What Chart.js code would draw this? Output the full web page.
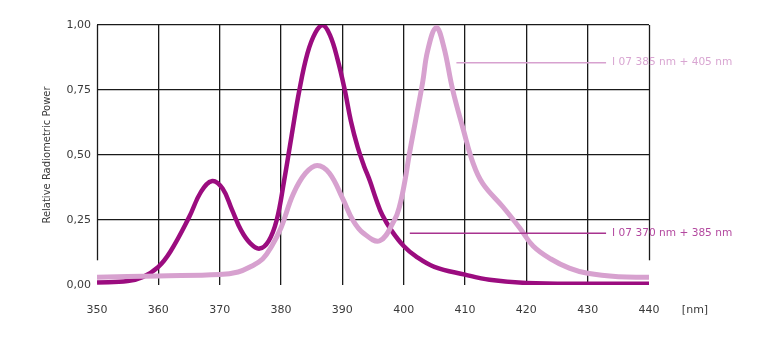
<!DOCTYPE html>
<html>
<head>
<meta charset="utf-8">
<script src="https://cdn.jsdelivr.net/npm/chart.js@4.4.1/dist/chart.umd.min.js"></script>
<style>
  html, body { margin: 0; padding: 0; background: #fff; }
  #wrap { position: relative; width: 768px; height: 343px; }
</style>
</head>
<body>
<div id="wrap"><canvas id="spectrum"></canvas></div>
<script>
// wavelength (nm) and relative power
var darkNm    = [350, 355, 357.4, 360, 362, 365, 367, 368.8, 370.5, 372, 373.5, 375, 376.5, 378, 379.3, 380.5, 381.7, 383, 384.3, 385.6, 386.8, 388, 389.2, 390.4, 391.4, 392.5, 393.5, 394.5, 395.5, 396.5, 398, 400, 402, 405, 410, 414, 420, 430, 440];
var darkPower = [0.01, 0.015, 0.03, 0.07, 0.13, 0.26, 0.36, 0.40, 0.37, 0.29, 0.21, 0.16, 0.14, 0.17, 0.25, 0.40, 0.57, 0.75, 0.89, 0.97, 1.00, 0.96, 0.87, 0.75, 0.63, 0.53, 0.46, 0.40, 0.33, 0.27, 0.21, 0.15, 0.11, 0.07, 0.04, 0.02, 0.008, 0.005, 0.005];

var lightNm    = [350, 360, 370, 373, 375, 377, 378.5, 380, 382, 384, 385.9, 387.9, 390.1, 391.7, 393.4, 396.1, 398.5, 399.3, 400.2, 400.9, 402, 403.1, 403.9, 405.3, 406.5, 408, 409.7, 411.3, 412.9, 416.2, 418.9, 421.1, 424, 427, 430, 435, 440];
var lightPower = [0.03, 0.035, 0.04, 0.05, 0.07, 0.10, 0.15, 0.22, 0.35, 0.43, 0.46, 0.43, 0.33, 0.25, 0.20, 0.17, 0.25, 0.30, 0.40, 0.50, 0.64, 0.78, 0.90, 0.99, 0.92, 0.75, 0.60, 0.47, 0.39, 0.30, 0.22, 0.15, 0.10, 0.065, 0.045, 0.032, 0.03];

var seriesNames = ["I 07 370 nm + 385 nm", "I 07 385 nm + 405 nm"];
// leader lines: [startNm, endNm] and level
var darkLeaderNm  = [401, 433];
var darkLeaderY   = 0.199;
var lightLeaderNm = [408.6, 433];
var lightLeaderY  = 0.855;

var xTicks = [350, 360, 370, 380, 390, 400, 410, 420, 430, 440];
var yTickLabels = ["0,00", "0,25", "0,50", "0,75", "1,00"];
var yTitle = "Relative Radiometric Power";
var xUnit = "[nm]";

var DARK = "#9b0c7f";
var LIGHT = "#d7a1cf";
var GRID = "#1a1a1a";
var TEXT = "#3a3a3a";
var FONT = "DejaVu Sans";

function pairs(xs, ys){
  return xs.map(function (x, i) { return { x: x, y: ys[i] }; });
}

var frameAndLabels = {
  id: "frameAndLabels",
  afterDatasetsDraw: function (chart) {
    var ctx = chart.ctx;
    var xs = chart.scales.x, ys = chart.scales.y;

    // left and right frame lines stop short of the baseline
    ctx.save();
    ctx.strokeStyle = GRID;
    ctx.lineWidth = 1.3;
    [xTicks[0], xTicks[xTicks.length - 1]].forEach(function (v) {
      var px = Math.round(xs.getPixelForValue(v)) + 0.5;
      ctx.beginPath();
      ctx.moveTo(px, ys.getPixelForValue(1));
      ctx.lineTo(px, ys.getPixelForValue(0.095));
      ctx.stroke();
    });

    // series labels next to their leader lines
    ctx.font = "10.6px " + FONT;
    ctx.textBaseline = "middle";
    ctx.textAlign = "left";
    ctx.fillStyle = "#d9a6d2";
    ctx.fillText(seriesNames[1], xs.getPixelForValue(lightLeaderNm[1]) + 6, ys.getPixelForValue(lightLeaderY));
    ctx.fillStyle = "#b3489f";
    ctx.fillText(seriesNames[0], xs.getPixelForValue(darkLeaderNm[1]) + 6, ys.getPixelForValue(darkLeaderY));

    ctx.fillStyle = TEXT;
    ctx.font = "11px " + FONT;
    ctx.textAlign = "center";
    ctx.fillText(xUnit, 695, 310);
    ctx.restore();
  }
};

var canvas = document.getElementById("spectrum");
new Chart(canvas, {
  type: "line",
  data: {
    datasets: [
      {
        label: seriesNames[1],
        data: pairs(lightNm, lightPower),
        borderColor: LIGHT,
        borderWidth: 5,
        pointRadius: 0,
        tension: 0.4,
        order: 1
      },
      {
        label: seriesNames[0],
        data: pairs(darkNm, darkPower),
        borderColor: DARK,
        borderWidth: 4.5,
        pointRadius: 0,
        tension: 0.4,
        order: 2
      },
      {
        label: "leader1",
        data: pairs(lightLeaderNm, [lightLeaderY, lightLeaderY]),
        borderColor: LIGHT,
        borderWidth: 1.5,
        pointRadius: 0,
        order: 0
      },
      {
        label: "leader0",
        data: pairs(darkLeaderNm, [darkLeaderY, darkLeaderY]),
        borderColor: "#a8338f",
        borderWidth: 1.5,
        pointRadius: 0,
        order: 0
      }
    ]
  },
  options: {
    responsive: true,
    maintainAspectRatio: false,
    animation: false,
    layout: { padding: { left: 0, right: 119, top: 25, bottom: 0 } },
    plugins: {
      legend: { display: false },
      tooltip: { enabled: false }
    },
    scales: {
      x: {
        type: "linear",
        min: xTicks[0],
        max: xTicks[xTicks.length - 1],
        afterBuildTicks: function (scale) {
          scale.ticks = xTicks.map(function (v) { return { value: v }; });
        },
        afterFit: function (scale) { scale.height = 58; },
        border: { display: false },
        grid: {
          drawTicks: false,
          lineWidth: 1.3,
          color: function (c) {
            var v = c.tick && c.tick.value;
            return (v === xTicks[0] || v === xTicks[xTicks.length - 1]) ? "transparent" : GRID;
          }
        },
        ticks: {
          padding: 19,
          maxRotation: 0,
          color: TEXT,
          font: { family: FONT, size: 11 },
          callback: function (v) { return String(v); }
        }
      },
      y: {
        min: 0,
        max: 1,
        afterFit: function (scale) { scale.width = 97; },
        border: { display: false },
        grid: {
          drawTicks: false,
          lineWidth: 1.3,
          color: function (c) {
            return (c.tick && c.tick.value === 0) ? "transparent" : GRID;
          }
        },
        ticks: {
          stepSize: 0.25,
          padding: 6,
          color: TEXT,
          font: { family: FONT, size: 11 },
          callback: function (v, i) { return yTickLabels[i]; }
        },
        title: {
          display: true,
          text: yTitle,
          color: TEXT,
          font: { family: FONT, size: 10 },
          padding: { top: 41, bottom: 0 }
        }
      }
    }
  },
  plugins: [frameAndLabels]
});
</script>
</body>
</html>
